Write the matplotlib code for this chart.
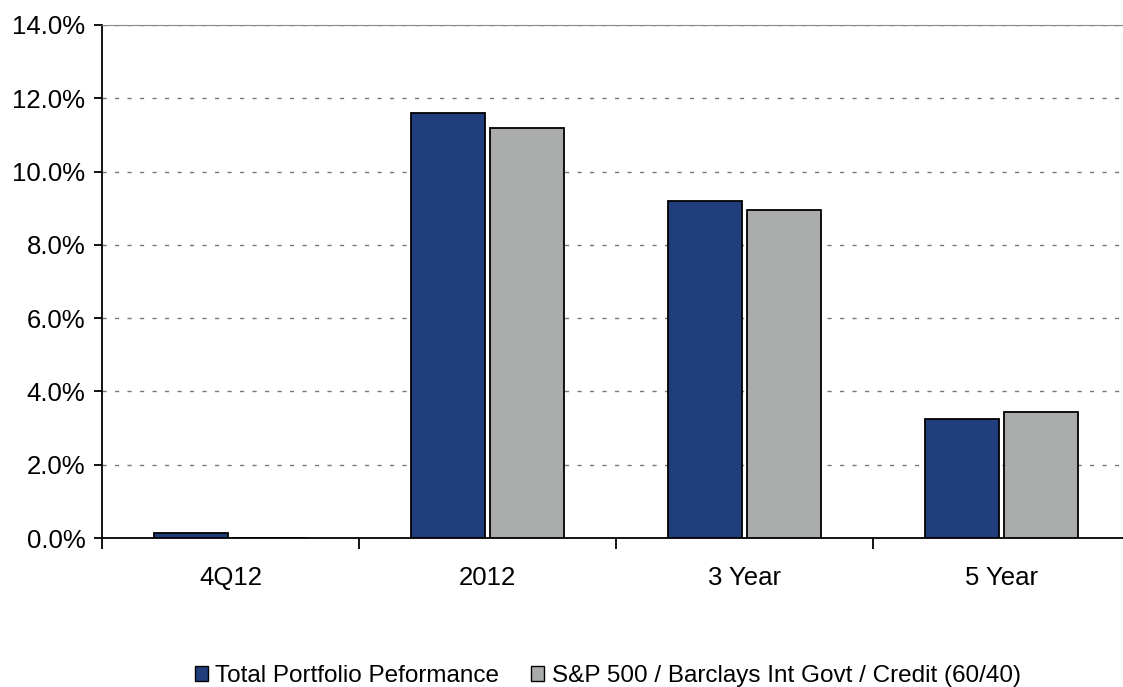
import numpy as np
import matplotlib.pyplot as plt
from matplotlib.patches import Patch

plt.rcParams.update({
    "font.family": ["Liberation Sans", "DejaVu Sans"],
    "font.size": 18.5,
})

# --- Data ---
categories = ["4Q12", "2012", "3 Year", "5 Year"]
portfolio = [0.15, 11.6, 9.2, 3.25]
benchmark = [0.0, 11.2, 8.95, 3.45]
series_names = ["Total Portfolio Peformance",
                "S&P 500 / Barclays Int Govt / Credit (60/40)"]
yticks = [0, 2, 4, 6, 8, 10, 12, 14]

navy = "#213e7c"
gray = "#a9acab"

fig = plt.figure(figsize=(11.23, 6.87), dpi=100)
ax = fig.add_axes([102 / 1123, 149 / 687, 1028 / 1123, 513 / 687])

x = np.arange(len(categories))
w = 0.29
gap = 0.008
ax.bar(x - w / 2 - gap, portfolio, w, color=navy, edgecolor="black", linewidth=1.3, zorder=3)
ax.bar(x + w / 2 + gap, benchmark, w, color=gray, edgecolor="black", linewidth=1.3, zorder=3)

ax.set_xlim(-0.5, len(categories) - 0.5)
ax.set_ylim(0, 14)
ax.set_yticks(yticks)
ax.set_yticklabels([f"{v:.1f}%" for v in yticks])

# category labels centred, tick marks on the boundaries
ax.set_xticks(x)
ax.set_xticklabels(categories)
ax.tick_params(axis="x", length=0, pad=20)
ax.set_xticks(np.arange(-0.5, len(categories), 1.0), minor=True)
ax.tick_params(axis="x", which="minor", length=8, width=1.3, direction="out")
ax.tick_params(axis="y", length=6, width=1.3, direction="out", pad=6)

ax.yaxis.grid(True, color="#777777", linestyle=(0, (3, 6)), linewidth=1.0, zorder=0)
ax.set_axisbelow(True)

ax.spines["right"].set_visible(False)
ax.spines["top"].set_color("#888888")
ax.spines["left"].set_linewidth(1.3)
ax.spines["bottom"].set_linewidth(1.3)

handles = [Patch(facecolor=navy, edgecolor="black", linewidth=1.0),
           Patch(facecolor=gray, edgecolor="black", linewidth=1.0)]
fig.legend(handles, series_names, loc="center", bbox_to_anchor=(0.541, 0.016),
           ncol=2, frameon=False, handlelength=0.55, handleheight=0.55,
           handletextpad=0.3, columnspacing=1.3, fontsize=17.5)

fig.savefig("out.png", dpi=100)
